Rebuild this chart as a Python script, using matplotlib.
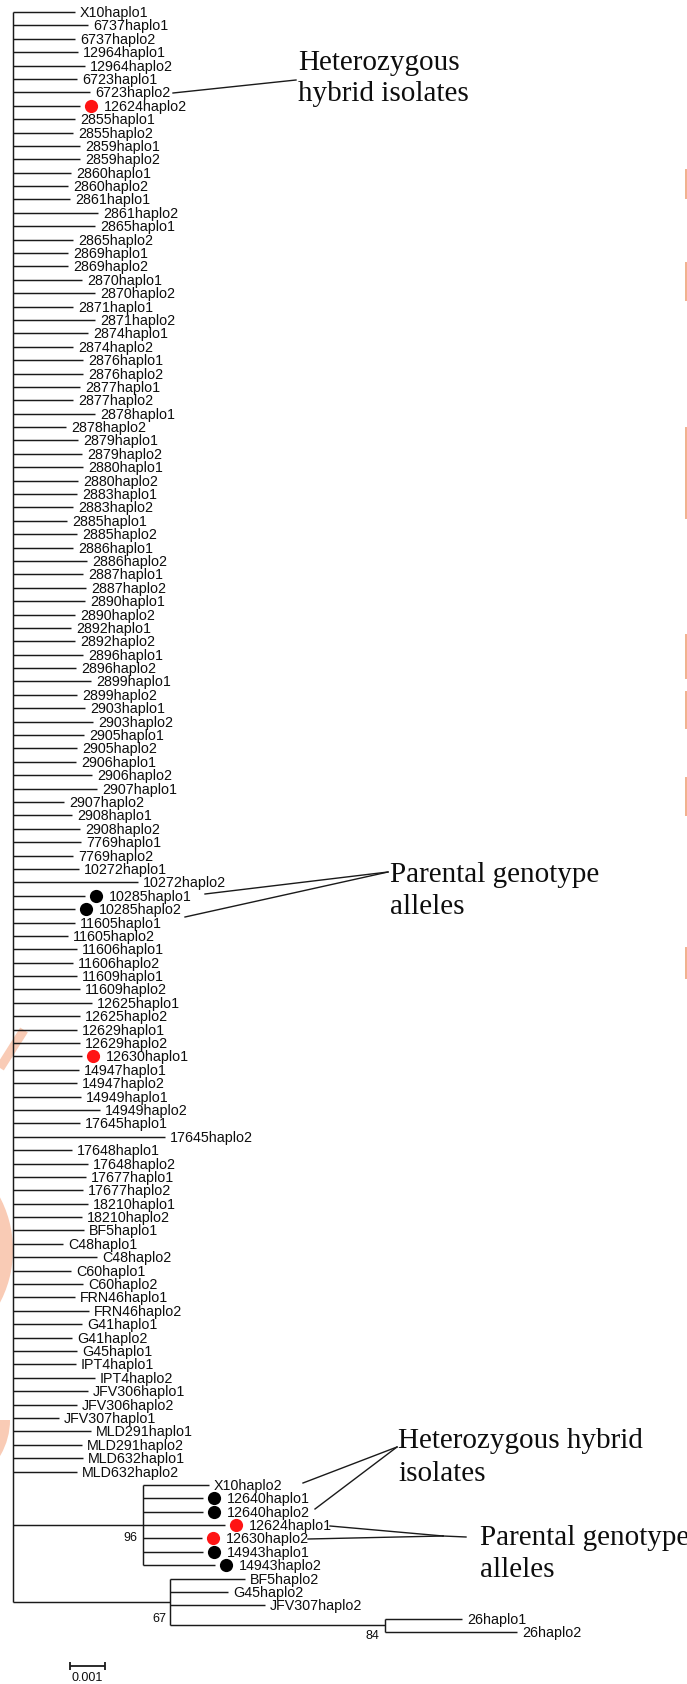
import numpy as np
import matplotlib
matplotlib.use('Agg')
import matplotlib.pyplot as plt
from matplotlib.transforms import offset_copy
from matplotlib.patches import Wedge

# ---------------- data ----------------
# distances root -> tip, in units of 0.001 substitutions/site
main_names = [
    'X10haplo1', '6737haplo1', '6737haplo2', '12964haplo1', '12964haplo2', '6723haplo1',
    '6723haplo2', '12624haplo2', '2855haplo1', '2855haplo2', '2859haplo1', '2859haplo2',
    '2860haplo1', '2860haplo2', '2861haplo1', '2861haplo2', '2865haplo1', '2865haplo2',
    '2869haplo1', '2869haplo2', '2870haplo1', '2870haplo2', '2871haplo1', '2871haplo2',
    '2874haplo1', '2874haplo2', '2876haplo1', '2876haplo2', '2877haplo1', '2877haplo2',
    '2878haplo1', '2878haplo2', '2879haplo1', '2879haplo2', '2880haplo1', '2880haplo2',
    '2883haplo1', '2883haplo2', '2885haplo1', '2885haplo2', '2886haplo1', '2886haplo2',
    '2887haplo1', '2887haplo2', '2890haplo1', '2890haplo2', '2892haplo1', '2892haplo2',
    '2896haplo1', '2896haplo2', '2899haplo1', '2899haplo2', '2903haplo1', '2903haplo2',
    '2905haplo1', '2905haplo2', '2906haplo1', '2906haplo2', '2907haplo1', '2907haplo2',
    '2908haplo1', '2908haplo2', '7769haplo1', '7769haplo2', '10272haplo1', '10272haplo2',
    '10285haplo1', '10285haplo2', '11605haplo1', '11605haplo2', '11606haplo1', '11606haplo2',
    '11609haplo1', '11609haplo2', '12625haplo1', '12625haplo2', '12629haplo1', '12629haplo2',
    '12630haplo1', '14947haplo1', '14947haplo2', '14949haplo1', '14949haplo2', '17645haplo1',
    '17645haplo2', '17648haplo1', '17648haplo2', '17677haplo1', '17677haplo2', '18210haplo1',
    '18210haplo2', 'BF5haplo1', 'C48haplo1', 'C48haplo2', 'C60haplo1', 'C60haplo2',
    'FRN46haplo1', 'FRN46haplo2', 'G41haplo1', 'G41haplo2', 'G45haplo1', 'IPT4haplo1',
    'IPT4haplo2', 'JFV306haplo1', 'JFV306haplo2', 'JFV307haplo1', 'MLD291haplo1',
    'MLD291haplo2', 'MLD632haplo1', 'MLD632haplo2']
main_tips = [
    1.77, 2.14, 1.77, 1.86, 2.06, 1.83, 2.20, 1.91, 1.77, 1.71, 1.91, 1.91,
    1.66, 1.57, 1.63, 2.43, 2.34, 1.71, 1.57, 1.57, 1.97, 2.34, 1.71, 2.34,
    2.14, 1.71, 2.00, 2.00, 1.91, 1.71, 2.34, 1.51, 1.86, 1.97, 2.00, 1.86,
    1.83, 1.71, 1.54, 1.83, 1.71, 2.11, 2.00, 2.09, 2.06, 1.77, 1.66, 1.77,
    2.00, 1.80, 2.23, 1.83, 2.06, 2.29, 2.03, 1.83, 1.80, 2.26, 2.40, 1.46,
    1.69, 1.91, 1.94, 1.71, 1.89, 3.57, 2.06, 1.77, 1.77, 1.57, 1.83, 1.71,
    1.83, 1.91, 2.26, 1.91, 1.83, 1.91, 1.97, 1.89, 1.83, 1.94, 2.49, 1.91,
    4.34, 1.69, 2.14, 2.09, 2.00, 2.14, 1.97, 2.03, 1.43, 2.40, 1.66, 2.00,
    1.77, 2.17, 1.97, 1.69, 1.83, 1.80, 2.34, 2.14, 1.83, 1.31, 2.23, 1.97,
    2.00, 1.83]

c96_names = ['X10haplo2', '12640haplo1', '12640haplo2', '12624haplo1',
             '12630haplo2', '14943haplo1', '14943haplo2']
c96_tips = [5.60, 5.43, 5.43, 6.06, 5.40, 5.43, 5.77]
c96_node = 3.71
c96_support = '96'

c67_names = ['BF5haplo2', 'G45haplo2', 'JFV307haplo2']
c67_tips = [6.63, 6.14, 7.20]
c67_node = 4.49
c67_support = '67'

c84_names = ['26haplo1', '26haplo2']
c84_tips = [12.83, 14.40]
c84_node = 10.63
c84_support = '84'

red_alleles = ['12624haplo2', '12630haplo1', '12624haplo1', '12630haplo2']
black_alleles = ['10285haplo1', '10285haplo2', '12640haplo1', '12640haplo2',
                 '14943haplo1', '14943haplo2']

scale_len = 0.001
UNIT = 1e-3

# ---------------- figure ----------------
W, H = 687, 1684
DPI = 100
fig = plt.figure(figsize=(W / DPI, H / DPI), dpi=DPI)
fig.patch.set_facecolor('white')

# pixel-coordinate layer (background marks + annotations)
pax = fig.add_axes([0, 0, 1, 1])
pax.axis('off')
pax.set_xlim(0, W)
pax.set_ylim(H, 0)

ax = fig.add_axes([0, 0, 1, 1])
ax.axis('off')
ax.patch.set_alpha(0)

X0_PX, PX_PER_UNIT = 13.0, 35000.0
Y0_PX, ROW_PX = 12.0, 13.39
ax.set_xlim(-X0_PX / PX_PER_UNIT, (W - X0_PX) / PX_PER_UNIT)
ax.set_ylim((H - Y0_PX) / ROW_PX, -Y0_PX / ROW_PX)

LC = '#1a1a1a'
LW = 1.05
LABEL_FONT = ['Liberation Sans', 'DejaVu Sans']
SERIF = ['Liberation Serif', 'DejaVu Serif']
TXT = '#0d0d0d'

# faint watermark fragments present in the source image
WM = '#f9cbb5'
pax.plot([0, 24], [1068, 1030], color=WM, lw=6.5, solid_capstyle='butt', zorder=0)
pax.add_patch(Wedge((-100, 1250), 113, -60, 60, width=13, color=WM, lw=0, zorder=0))
pax.add_patch(Wedge((-60, 1420), 70, 0, 60, width=10, color=WM, lw=0, zorder=0))
for y0, y1 in [(170, 198), (263, 300), (428, 518), (635, 678), (692, 728),
               (778, 815), (948, 978)]:
    pax.plot([685.5, 685.5], [y0, y1], color='#f2b08c', lw=1.4, zorder=0)

main_tips_s = np.array(main_tips) * UNIT
c96_tips_s = np.array(c96_tips) * UNIT
c67_tips_s = np.array(c67_tips) * UNIT
c84_tips_s = np.array(c84_tips) * UNIT
n96 = c96_node * UNIT
n67 = c67_node * UNIT
n84 = c84_node * UNIT

n_main = len(main_names)
rows_main = np.arange(n_main)
rows_96 = np.arange(n_main, n_main + len(c96_names))
rows_67 = np.arange(rows_96[-1] + 1, rows_96[-1] + 1 + len(c67_names))
rows_84 = np.arange(rows_67[-1] + 1, rows_67[-1] + 1 + len(c84_names))

y96 = (rows_96[0] + rows_96[-1]) / 2
y84 = (rows_84[0] + rows_84[-1]) / 2
y67 = (rows_67[0] + y84) / 2

# root
ax.vlines(0, rows_main[0], y67, color=LC, lw=LW)
ax.hlines(rows_main, 0, main_tips_s, color=LC, lw=LW)
# clade 96
ax.hlines(y96, 0, n96, color=LC, lw=LW)
ax.vlines(n96, rows_96[0], rows_96[-1], color=LC, lw=LW)
ax.hlines(rows_96, n96, c96_tips_s, color=LC, lw=LW)
# clade 67
ax.hlines(y67, 0, n67, color=LC, lw=LW)
ax.vlines(n67, rows_67[0], y84, color=LC, lw=LW)
ax.hlines(rows_67, n67, c67_tips_s, color=LC, lw=LW)
# clade 84
ax.hlines(y84, n67, n84, color=LC, lw=LW)
ax.vlines(n84, rows_84[0], rows_84[-1], color=LC, lw=LW)
ax.hlines(rows_84, n84, c84_tips_s, color=LC, lw=LW)

all_names = main_names + c96_names + c67_names + c84_names
all_tips = np.concatenate([main_tips_s, c96_tips_s, c67_tips_s, c84_tips_s])
all_rows = np.concatenate([rows_main, rows_96, rows_67, rows_84])

dot_tr = offset_copy(ax.transData, fig=fig, x=11, y=0, units='dots')
for name, x, y in zip(all_names, all_tips, all_rows):
    dotted = name in red_alleles or name in black_alleles
    if dotted:
        col = '#ff1414' if name in red_alleles else 'black'
        ax.plot([x], [y], 'o', color=col, ms=9.5, mec='none', transform=dot_tr)
    dx = 24 if dotted else 5
    tr = offset_copy(ax.transData, fig=fig, x=dx, y=-1, units='dots')
    ax.text(x, y, name, transform=tr, fontsize=10.3, family=LABEL_FONT,
            ha='left', va='center', color=TXT)

# bootstrap values
for (nx, ny, lab, dx, dy) in [(n96, y96, c96_support, -5, -13),
                              (n67, y67, c67_support, -4, -17),
                              (n84, y84, c84_support, -6, -11)]:
    tr = offset_copy(ax.transData, fig=fig, x=dx, y=dy, units='dots')
    ax.text(nx, ny, lab, transform=tr, fontsize=9, family=LABEL_FONT,
            ha='right', va='center', color=TXT)

# scale bar
sb_x0 = (70 - X0_PX) / PX_PER_UNIT
sb_y = (1666 - Y0_PX) / ROW_PX
ax.hlines(sb_y, sb_x0, sb_x0 + scale_len, color=LC, lw=1.3)
ax.vlines([sb_x0, sb_x0 + scale_len], sb_y - 0.3, sb_y + 0.3, color=LC, lw=1.3)
ax.text(sb_x0 + scale_len / 2, (1678 - Y0_PX) / ROW_PX, '0.001', fontsize=9,
        family=LABEL_FONT, ha='center', va='center', color=TXT)

# ---------------- annotations (pixel layout) ----------------
AFS = 21
def leader(p0, p1):
    pax.plot([p0[0], p1[0]], [p0[1], p1[1]], color=LC, lw=1.0)

def note(x, y, s):
    pax.text(x, y, s, fontsize=AFS, family=SERIF, va='baseline', ha='left', color=TXT)

# top: heterozygous hybrid isolates
leader((173, 93), (296, 80))
note(298, 70, 'Heterozygous')
note(298, 101, 'hybrid isolates')

# middle: parental genotype alleles
leader((205, 894), (388, 872))
leader((185, 917), (388, 872))
note(390, 882, 'Parental genotype')
note(390, 914, 'alleles')

# bottom: heterozygous hybrid isolates
leader((303, 1483), (397, 1447))
leader((315, 1509), (397, 1447))
note(398, 1448, 'Heterozygous hybrid')
note(398, 1481, 'isolates')

# bottom: parental genotype alleles
leader((330, 1526), (443, 1536))
leader((308, 1539), (443, 1536))
leader((443, 1536), (466, 1537))
note(480, 1545, 'Parental genotype')
note(480, 1577, 'alleles')

fig.savefig('out.png', dpi=DPI, facecolor='white')
